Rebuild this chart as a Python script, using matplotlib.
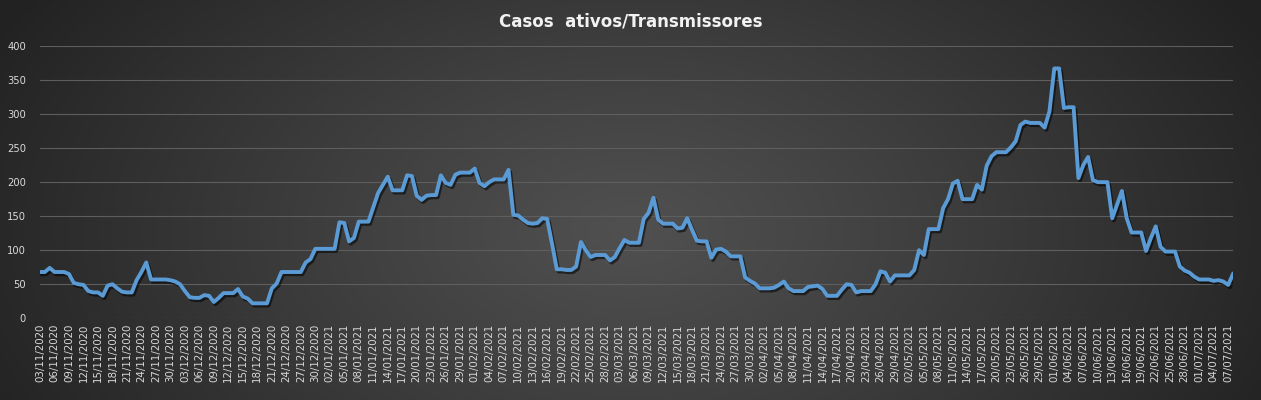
import numpy as np
import pandas as pd
import matplotlib
matplotlib.use("Agg")
import matplotlib.pyplot as plt
import matplotlib.patheffects as pe

# ---- data ----
start_date = "2020-11-03"
end_date = "2021-07-08"
dates = pd.date_range(start_date, end_date, freq="D")
date_labels = [d.strftime("%d/%m/%Y") for d in dates]

active_cases = [
    68, 68, 74, 68, 68, 68, 65, 52, 50, 49,
    40, 38, 38, 33, 48, 50, 44, 39, 38, 38,
    56, 68, 82, 57, 57, 57, 57, 56, 54, 50,
    40, 31, 30, 30, 34, 33, 24, 30, 37, 37,
    37, 43, 32, 29, 22, 22, 22, 22, 44, 51,
    68, 68, 68, 68, 68, 82, 87, 102, 102, 102,
    102, 102, 141, 140, 113, 118, 142, 142, 142, 163,
    184, 196, 208, 188, 188, 188, 210, 209, 180, 174,
    180, 181, 181, 210, 199, 196, 211, 214, 214, 214,
    220, 199, 194, 200, 204, 204, 204, 218, 152, 151,
    145, 140, 139, 140, 147, 146, 110, 72, 72, 71,
    71, 76, 112, 100, 90, 93, 93, 93, 85, 90,
    103, 115, 111, 111, 111, 146, 155, 177, 145, 139,
    139, 139, 132, 133, 147, 130, 114, 113, 113, 89,
    101, 102, 98, 91, 91, 91, 60, 55, 51, 44,
    44, 44, 45, 49, 54, 44, 40, 40, 40, 46,
    47, 48, 43, 33, 33, 33, 42, 50, 49, 38,
    40, 40, 40, 50, 69, 67, 54, 63, 63, 63,
    63, 71, 100, 93, 131, 131, 131, 162, 175, 198,
    202, 175, 175, 175, 196, 189, 224, 238, 244, 244,
    244, 251, 260, 284, 289, 287, 287, 287, 280, 304,
    367, 367, 309, 310, 310, 206, 225, 237, 203, 200,
    200, 200, 147, 167, 187, 147, 126, 126, 126, 99,
    118, 135, 105, 98, 98, 98, 76, 70, 67, 61,
    57, 57, 57, 55, 56, 54, 49, 65,
]
y_ticks = [0, 50, 100, 150, 200, 250, 300, 350, 400]
title = "Casos  ativos/Transmissores"

# ---- figure ----
W, H = 1261, 400
fig = plt.figure(figsize=(W / 100, H / 100), dpi=100)

# radial dark gradient background
bg = fig.add_axes([0, 0, 1, 1], zorder=0)
yy, xx = np.mgrid[0:H, 0:W]
r = np.sqrt(((xx - 630) / 720.0) ** 2 + ((yy - 230) / 430.0) ** 2)
r = np.clip(r, 0, 1)
shade = (0x50 - (0x50 - 0x22) * r ** 1.1) / 255.0
img = np.dstack([shade, shade, shade])
bg.imshow(img, aspect="auto", extent=[0, 1, 0, 1], origin="upper")
bg.set_axis_off()

ax = fig.add_axes([40 / W, (H - 318.3) / H, (1233 - 40) / W, (318.3 - 46) / H], zorder=1)
ax.patch.set_alpha(0)

x = np.arange(len(active_cases))
ax.plot(x, active_cases, color="#5B9BD5", linewidth=2.8, solid_joinstyle="round",
        path_effects=[pe.SimpleLineShadow(offset=(1.2, -1.6), shadow_color="black", alpha=0.55),
                      pe.Normal()], zorder=3)

ax.set_xlim(0, len(active_cases) - 1)
ax.set_ylim(0, 400)
ax.set_yticks(y_ticks)
ax.set_yticklabels([str(v) for v in y_ticks])
ax.grid(axis="y", color="#5e5e5e", linewidth=0.8)
ax.grid(axis="x", visible=False)
for s in ax.spines.values():
    s.set_visible(False)

tick_idx = x[::3]
ax.set_xticks(tick_idx)
ax.set_xticklabels([date_labels[i] for i in tick_idx], rotation=90, va="top", ha="center")
ax.tick_params(axis="x", length=0, pad=4, labelsize=7.4, labelcolor="#d9d9d9")
ax.tick_params(axis="y", length=0, pad=10, labelsize=7.2, labelcolor="#d9d9d9")

fig.text(631 / W, 1 - 22 / H, title, ha="center", va="center", fontsize=12,
         fontweight="bold", color="#f2f2f2")

fig.savefig("out.png", dpi=100)
